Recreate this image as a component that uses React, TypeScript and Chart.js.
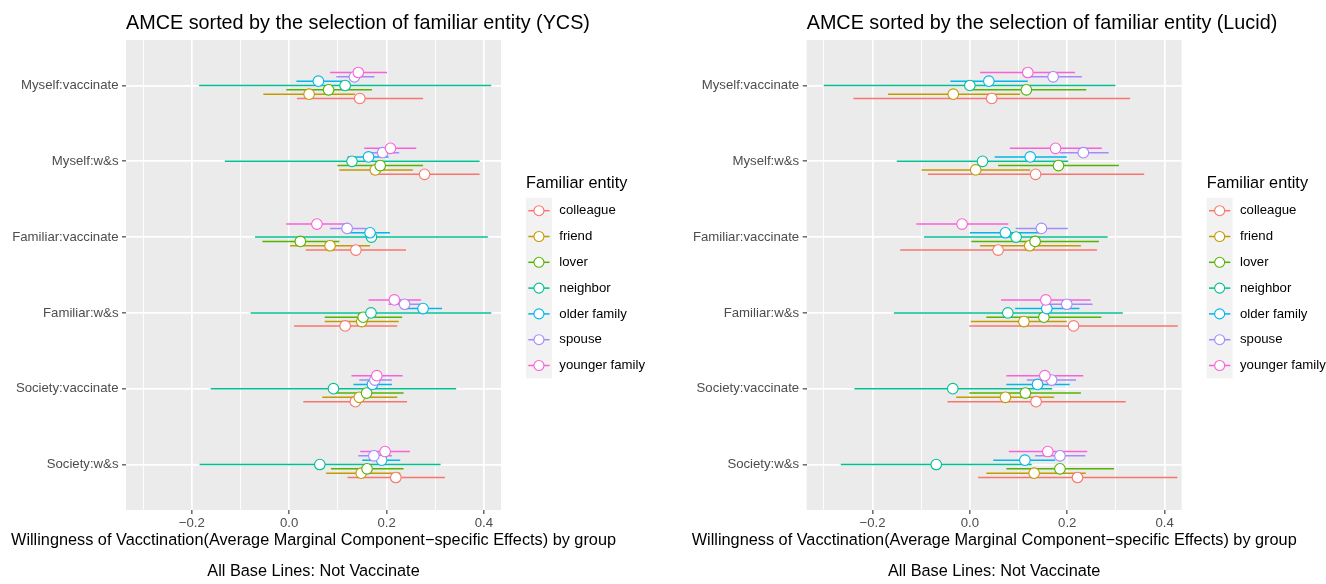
import React, { useEffect, useRef } from 'react';
import { Chart, registerables } from 'chart.js';

Chart.register(...registerables);

// ---------- data ----------
const categories = [
  'Myself:vaccinate',
  'Myself:w&s',
  'Familiar:vaccinate',
  'Familiar:w&s',
  'Society:vaccinate',
  'Society:w&s',
];
const groups = ['colleague', 'friend', 'lover', 'neighbor', 'older family', 'spouse', 'younger family'];
const groupColors = ['#F8766D', '#C49A00', '#53B400', '#00C094', '#00B6EB', '#A58AFF', '#FB61D7'];
const xTickValues = [-0.3, -0.2, -0.1, 0, 0.1, 0.2, 0.3, 0.4];
const xLimits = [-0.335, 0.435];

// [estimate, lower, upper] per category (YCS)
const ycsColleague = [[0.145, 0.016, 0.275], [0.278, 0.169, 0.391], [0.137, 0.034, 0.24], [0.115, 0.01, 0.222], [0.136, 0.029, 0.242], [0.219, 0.12, 0.32]];
const ycsFriend = [[0.041, -0.053, 0.135], [0.177, 0.103, 0.254], [0.084, 0.002, 0.166], [0.149, 0.073, 0.225], [0.144, 0.068, 0.222], [0.148, 0.076, 0.228]];
const ycsLover = [[0.081, -0.006, 0.17], [0.187, 0.099, 0.275], [0.023, -0.055, 0.103], [0.152, 0.073, 0.232], [0.159, 0.096, 0.235], [0.16, 0.086, 0.235]];
const ycsNeighbor = [[0.115, -0.185, 0.415], [0.129, -0.132, 0.391], [0.169, -0.07, 0.408], [0.168, -0.079, 0.415], [0.091, -0.161, 0.343], [0.063, -0.184, 0.311]];
const ycsOlder = [[0.06, 0.015, 0.11], [0.163, 0.12, 0.204], [0.166, 0.123, 0.207], [0.275, 0.238, 0.314], [0.171, 0.132, 0.211], [0.19, 0.15, 0.228]];
const ycsSpouse = [[0.134, 0.097, 0.175], [0.192, 0.158, 0.226], [0.119, 0.084, 0.158], [0.237, 0.204, 0.27], [0.176, 0.144, 0.211], [0.174, 0.142, 0.211]];
const ycsYounger = [[0.142, 0.084, 0.201], [0.208, 0.154, 0.261], [0.057, -0.006, 0.122], [0.216, 0.163, 0.271], [0.18, 0.128, 0.233], [0.197, 0.146, 0.248]];

// [estimate, lower, upper] per category (Lucid)
const lucidColleague = [[0.045, -0.239, 0.329], [0.135, -0.086, 0.358], [0.058, -0.143, 0.261], [0.213, -0.001, 0.427], [0.136, -0.046, 0.32], [0.221, 0.017, 0.426]];
const lucidFriend = [[-0.034, -0.168, 0.103], [0.012, -0.099, 0.124], [0.123, 0.021, 0.228], [0.111, 0.002, 0.199], [0.073, -0.028, 0.173], [0.132, 0.034, 0.238]];
const lucidLover = [[0.116, 0.0, 0.239], [0.182, 0.058, 0.306], [0.134, 0.003, 0.265], [0.152, 0.034, 0.27], [0.114, -0.001, 0.228], [0.185, 0.075, 0.296]];
const lucidNeighbor = [[0.0, -0.3, 0.299], [0.026, -0.15, 0.202], [0.095, -0.094, 0.283], [0.078, -0.156, 0.314], [-0.035, -0.237, 0.169], [-0.069, -0.265, 0.127]];
const lucidOlder = [[0.039, -0.04, 0.119], [0.124, 0.051, 0.199], [0.073, 0.0, 0.144], [0.158, 0.093, 0.225], [0.139, 0.075, 0.205], [0.113, 0.048, 0.175]];
const lucidSpouse = [[0.171, 0.123, 0.23], [0.233, 0.185, 0.285], [0.147, 0.094, 0.201], [0.199, 0.158, 0.252], [0.168, 0.117, 0.218], [0.185, 0.134, 0.237]];
const lucidYounger = [[0.119, 0.021, 0.216], [0.176, 0.082, 0.271], [-0.016, -0.11, 0.079], [0.156, 0.064, 0.248], [0.154, 0.075, 0.233], [0.16, 0.08, 0.241]];

const ycsSeries = [ycsColleague, ycsFriend, ycsLover, ycsNeighbor, ycsOlder, ycsSpouse, ycsYounger];
const lucidSeries = [lucidColleague, lucidFriend, lucidLover, lucidNeighbor, lucidOlder, lucidSpouse, lucidYounger];

const xTitleLines = [
  'Willingness of Vacctination(Average Marginal Component\u2212specific Effects) by group',
  '',
  'All Base Lines: Not Vaccinate',
];

// ---------- styling ----------
const FONT = '"Liberation Sans", Arial, Helvetica, sans-serif';
const W = 663;
const H = 584;
const DODGE = 0.4;

const isMajor = (v: number) => Math.abs(Math.round(v * 10)) % 2 === 0;
const fmtTick = (v: number) => {
  if (!isMajor(v)) return '';
  const a = Math.abs(v).toFixed(1);
  return v < -1e-9 ? '\u2212' + a : a;
};

const panelPlugin = {
  id: 'ggPanel',
  beforeDraw(chart: any) {
    const { ctx, chartArea } = chart;
    ctx.save();
    ctx.fillStyle = '#EBEBEB';
    ctx.fillRect(chartArea.left, chartArea.top, chartArea.right - chartArea.left, chartArea.bottom - chartArea.top);
    ctx.restore();
  },
  beforeDatasetsDraw(chart: any) {
    const { ctx, chartArea } = chart;
    const xs = chart.scales.x;
    ctx.save();
    ctx.beginPath();
    ctx.rect(chartArea.left, chartArea.top, chartArea.right - chartArea.left, chartArea.bottom - chartArea.top);
    ctx.clip();
    chart.data.datasets.forEach((ds: any, di: number) => {
      const meta = chart.getDatasetMeta(di);
      ctx.strokeStyle = ds.borderColor;
      ctx.lineWidth = 1.5;
      ds.data.forEach((d: any, i: number) => {
        const el = meta.data[i];
        if (!el) return;
        ctx.beginPath();
        ctx.moveTo(xs.getPixelForValue(d.lo), el.y);
        ctx.lineTo(xs.getPixelForValue(d.hi), el.y);
        ctx.stroke();
      });
    });
    ctx.restore();
  },
  afterDraw(chart: any) {
    const { ctx, chartArea } = chart;
    const opts = chart.options.plugins.ggPanel;
    ctx.save();
    // plot title
    ctx.fillStyle = '#000000';
    ctx.font = `19.8px ${FONT}`;
    ctx.textAlign = 'left';
    ctx.textBaseline = 'alphabetic';
    ctx.fillText(opts.title, chartArea.left, 29.3);

    // x axis title (may be wider than the panel)
    const cxPanel = (chartArea.left + chartArea.right) / 2;
    ctx.font = `16.3px ${FONT}`;
    ctx.textAlign = 'center';
    ctx.textBaseline = 'middle';
    opts.xTitle.forEach((line: string, i: number) => {
      if (line) ctx.fillText(line, cxPanel, 541 + i * 15.5);
    });

    // legend
    const x0 = chartArea.right + 25;
    const keyW = 25.9;
    const step = 25.8;
    const firstY = 210.7;
    ctx.textAlign = 'left';
    ctx.textBaseline = 'alphabetic';
    ctx.font = `16.3px ${FONT}`;
    ctx.fillText('Familiar entity', x0, 187.5);
    ctx.fillStyle = '#F2F2F2';
    ctx.fillRect(x0, firstY - step / 2, keyW, step * groups.length);
    chart.data.datasets.forEach((ds: any, i: number) => {
      const cy = firstY + i * step;
      const cx = x0 + keyW / 2;
      ctx.strokeStyle = ds.borderColor;
      ctx.lineWidth = 1.5;
      ctx.beginPath();
      ctx.moveTo(x0 + 2.3, cy);
      ctx.lineTo(x0 + keyW - 2.3, cy);
      ctx.stroke();
      ctx.beginPath();
      ctx.arc(cx, cy, 5, 0, Math.PI * 2);
      ctx.fillStyle = '#FFFFFF';
      ctx.fill();
      ctx.lineWidth = 1.1;
      ctx.stroke();
      ctx.fillStyle = '#000000';
      ctx.font = `13.2px ${FONT}`;
      ctx.textBaseline = 'middle';
      ctx.fillText(ds.label, x0 + keyW + 7.4, cy);
    });
    ctx.restore();
  },
};

function buildChart(canvas: HTMLCanvasElement, series: number[][][], title: string, panelLeft: number, panelRight: number) {
  const datasets = groups.map((g, gi) => ({
    label: g,
    order: groups.length - 1 - gi,
    borderColor: groupColors[gi],
    backgroundColor: '#FFFFFF',
    pointRadius: 5.3,
    pointBorderWidth: 1.1,
    pointHoverRadius: 5.3,
    showLine: false,
    data: series[gi].map((row, ci) => ({
      x: row[0],
      y: ci + 1 + (3 - gi) * (DODGE / groups.length),
      lo: row[1],
      hi: row[2],
    })),
  }));

  return new Chart(canvas, {
    type: 'scatter',
    data: { datasets },
    plugins: [panelPlugin],
    options: {
      responsive: false,
      maintainAspectRatio: false,
      animation: false,
      devicePixelRatio: 1,
      events: [],
      layout: { padding: { left: 0, right: W - panelRight, top: 40, bottom: 0 } },
      plugins: {
        legend: { display: false },
        title: { display: false },
        tooltip: { enabled: false },
        ggPanel: { title, xTitle: xTitleLines },
      } as any,
      scales: {
        x: {
          type: 'linear',
          position: 'bottom',
          min: xLimits[0],
          max: xLimits[1],
          afterBuildTicks: (s: any) => {
            s.ticks = xTickValues.map((v) => ({ value: v }));
          },
          afterFit: (s: any) => {
            s.height = 74;
          },
          border: { display: false },
          grid: {
            color: '#FFFFFF',
            lineWidth: (c: any) => (c.tick && isMajor(c.tick.value) ? 1.7 : 0.9),
            tickColor: (c: any) => (c.tick && isMajor(c.tick.value) ? '#333333' : 'rgba(0,0,0,0)'),
            tickLength: 4,
            tickWidth: 1.1,
          } as any,
          ticks: {
            autoSkip: false,
            maxRotation: 0,
            padding: 1,
            color: '#4D4D4D',
            font: { family: FONT, size: 13.2 },
            callback: (v: any) => fmtTick(Number(v)),
          },
          title: { display: false },
        },
        y: {
          type: 'linear',
          position: 'left',
          min: 0.4,
          max: categories.length + 0.6,
          reverse: true,
          afterBuildTicks: (s: any) => {
            s.ticks = categories.map((_, i) => ({ value: i + 1 }));
          },
          afterFit: (s: any) => {
            s.width = panelLeft;
          },
          border: { display: false },
          grid: {
            color: '#FFFFFF',
            lineWidth: 1.7,
            tickColor: '#333333',
            tickLength: 4,
            tickWidth: 1.1,
          } as any,
          ticks: {
            autoSkip: false,
            padding: 3.5,
            color: '#4D4D4D',
            font: { family: FONT, size: 13.2 },
            callback: (v: any) => categories[Math.round(Number(v)) - 1] ?? '',
          },
        },
      },
    } as any,
  });
}

export default function App() {
  const leftRef = useRef<HTMLCanvasElement | null>(null);
  const rightRef = useRef<HTMLCanvasElement | null>(null);

  useEffect(() => {
    const charts: Chart[] = [];
    if (leftRef.current) {
      charts.push(buildChart(leftRef.current, ycsSeries, 'AMCE sorted by the selection of familiar entity (YCS)', 126, 501));
    }
    if (rightRef.current) {
      charts.push(buildChart(rightRef.current, lucidSeries, 'AMCE sorted by the selection of familiar entity (Lucid)', 143.7, 518.7));
    }
    return () => charts.forEach((c) => c.destroy());
  }, []);

  return (
    <div style={{ position: 'absolute', left: 0, top: 0, width: 2 * W, height: H, background: '#FFFFFF' }}>
      <canvas ref={leftRef} width={W} height={H} style={{ position: 'absolute', left: 0, top: 0, width: W, height: H }} />
      <canvas ref={rightRef} width={W} height={H} style={{ position: 'absolute', left: W, top: 0, width: W, height: H }} />
    </div>
  );
}
